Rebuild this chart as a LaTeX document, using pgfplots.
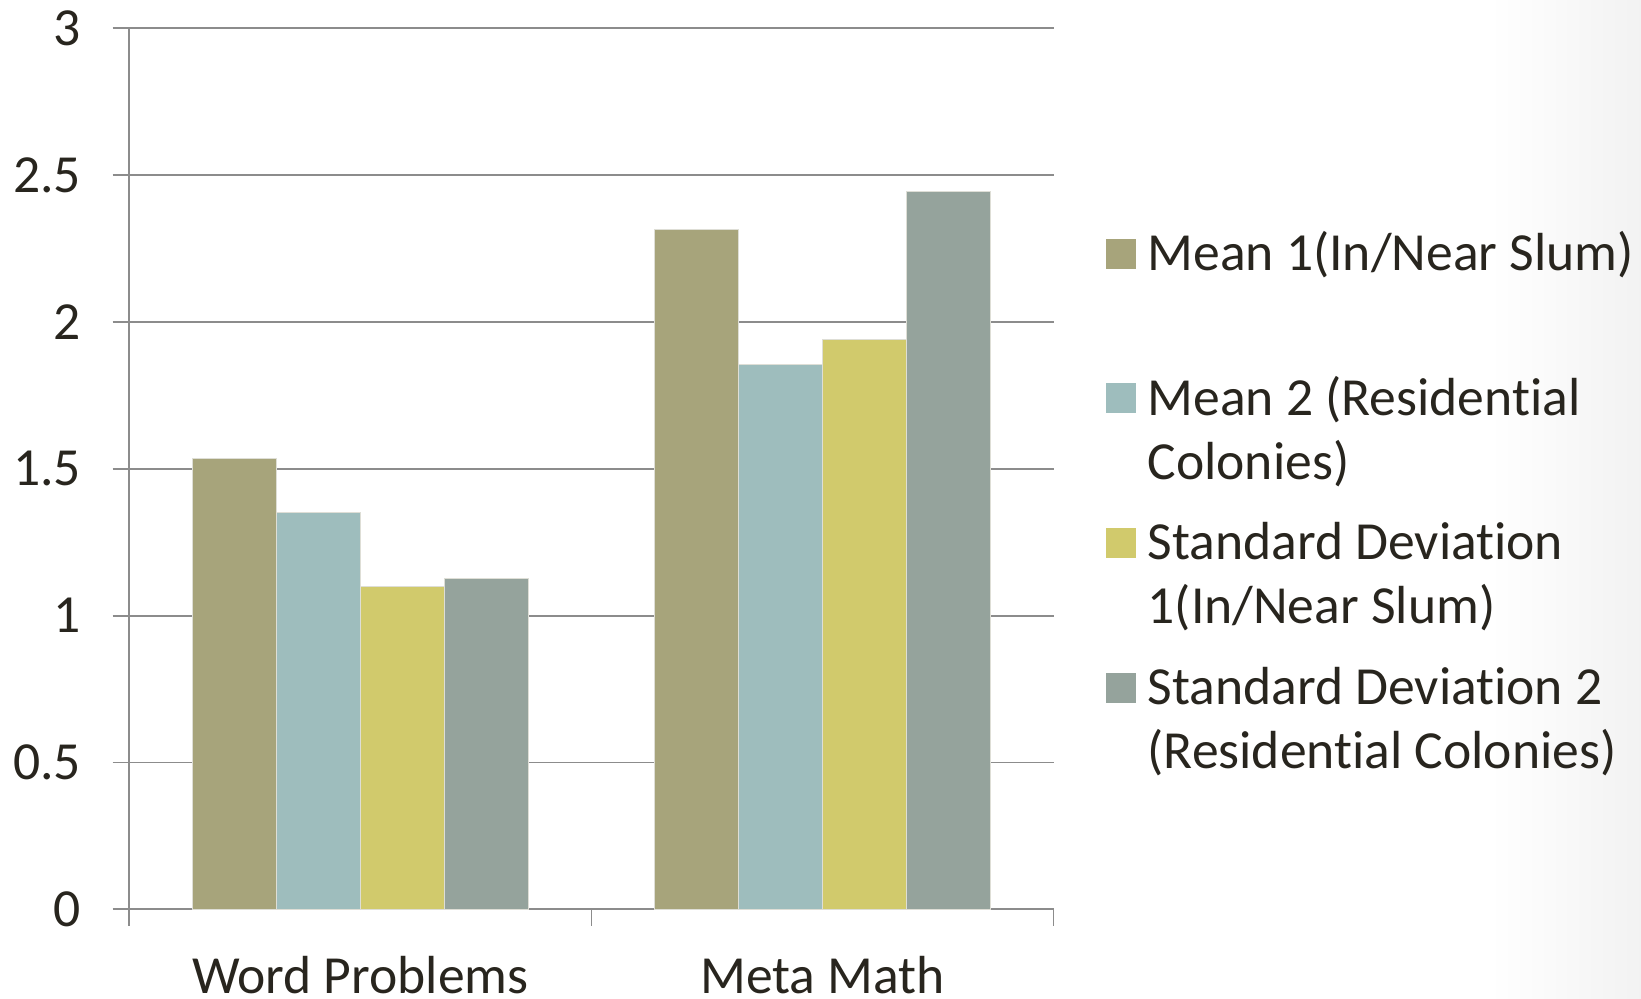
\documentclass[border=0pt]{standalone}
\usepackage{pgfplots}
\pgfplotsset{compat=1.18}
\usepackage{fontspec}
\setmainfont{Carlito}[Ligatures=NoCommon]

\definecolor{meanA}{RGB}{167,164,123}
\definecolor{meanB}{RGB}{158,189,189}
\definecolor{sdA}{RGB}{209,202,108}
\definecolor{sdB}{RGB}{149,163,156}
\definecolor{gridgray}{RGB}{140,140,140}
\definecolor{barline}{RGB}{222,222,214}
\definecolor{txt}{RGB}{40,37,30}
\newcommand\fz{\fontsize{26.8pt}{32pt}\selectfont}
\newcommand\entry[1]{\parbox[t]{10cm}{\strut #1}}

% square legend swatch, raised to sit beside the first text line
\pgfplotsset{
  sq/.style={legend image code/.code={%
    \path[fill=none,draw=none] (0pt,0pt) rectangle (15pt,15pt);
    \fill[##1,draw=none,overlay] (0pt,14.7pt) rectangle (15pt,29.7pt);}},
}

\begin{document}
\begin{tikzpicture}
\useasboundingbox (0,0) rectangle (820.5pt,499.5pt);
\shade[left color=white, right color=black!5] (745pt,0pt) rectangle (820.5pt,499.5pt);
\begin{axis}[
  at={(64.65pt,44.85pt)}, anchor=south west,
  scale only axis, width=462.1pt, height=440.5pt,
  ybar=0pt, bar width=42pt,
  xmin=-0.5, xmax=1.5, ymin=0, ymax=3,
  axis x line*=bottom, axis y line*=left,
  axis line style={gridgray, line width=0.9pt, -},
  ytick={0,0.5,1,1.5,2,2.5,3},
  yticklabels={0,0.5,1,1.5,2,2.5,3},
  xtick={-0.5,0.5,1.5}, xticklabels={},
  extra x ticks={0,1},
  extra x tick labels={Word Problems, Meta Math},
  extra x tick style={major tick length=0pt, xticklabel style={anchor=base, inner sep=0pt, yshift=-42.35pt}},
  tick align=outside, major tick length=8.3pt,
  tick style={gridgray, line width=0.9pt},
  ymajorgrids, grid style={gridgray, line width=0.9pt},
  /pgf/number format/assume math mode=true,
  tick label style={font=\fz, text=txt},
  yticklabel style={anchor=east, inner sep=0pt, xshift=-15.7pt},
  legend style={at={(1.05637,0.7765)}, anchor=north west, draw=none, fill=none,
    inner sep=0pt, font=\fz, text=txt, row sep=0pt, column sep=5.8pt,
    nodes={inner sep=0pt, text height=22.4pt, text depth=49.95pt}, cells={anchor=base west}},
  legend cell align=left,
]
\addplot[fill=meanA, draw=barline, line width=0.5pt, sq] coordinates {(0,1.534) (1,2.314)};
\addplot[fill=meanB, draw=barline, line width=0.5pt, sq] coordinates {(0,1.352) (1,1.854)};
\addplot[fill=sdA, draw=barline, line width=0.5pt, sq] coordinates {(0,1.100) (1,1.939)};
\addplot[fill=sdB, draw=barline, line width=0.5pt, sq] coordinates {(0,1.126) (1,2.443)};
\legend{\entry{Mean 1(In/Near Slum)},
        \entry{Mean 2 (Residential\\Colonies)},
        \entry{Standard Deviation\\1(In/Near Slum)},
        \entry{Standard Deviation 2\\(Residential Colonies)}}
\end{axis}
\end{tikzpicture}
\end{document}
